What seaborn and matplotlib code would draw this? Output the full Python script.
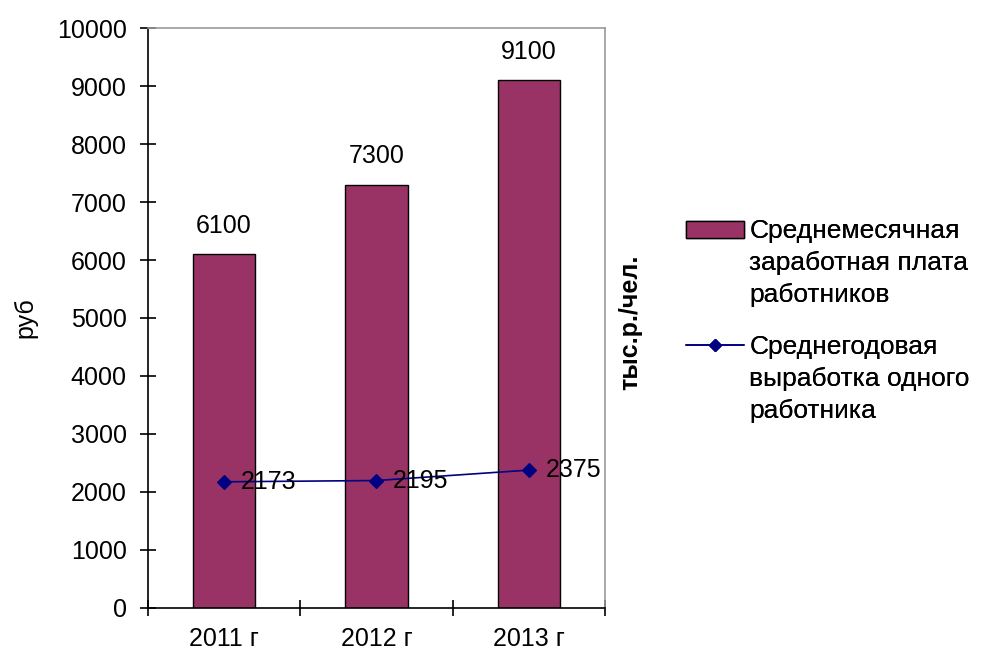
import matplotlib
matplotlib.use("Agg")
import matplotlib.pyplot as plt
from matplotlib.patches import Patch
from matplotlib.lines import Line2D
import pandas as pd
import seaborn as sns

years = ["2011 г", "2012 г", "2013 г"]
salary = [6100, 7300, 9100]
output = [2173, 2195, 2375]

salary_lines = ["Среднемесячная", "заработная плата", "работников"]
output_lines = ["Среднегодовая", "выработка одного", "работника"]

BAR = "#993366"
LINE = "#000080"
FS = 18

sns.set_theme(style="white")
plt.rcParams["font.family"] = ["Liberation Sans", "DejaVu Sans"]
plt.rcParams["font.size"] = FS
plt.rcParams["text.color"] = "black"
plt.rcParams["axes.labelcolor"] = "black"
plt.rcParams["xtick.color"] = "black"
plt.rcParams["ytick.color"] = "black"

df = pd.DataFrame({"year": years, "salary": salary, "output": output})

fig = plt.figure(figsize=(9.84, 6.57), dpi=100)
ax = fig.add_axes([0.150, 0.075, 0.465, 0.882])

sns.barplot(data=df, x="year", y="salary", color=BAR, saturation=1,
            width=0.41, edgecolor="black", linewidth=1, ax=ax)

sns.pointplot(data=df, x="year", y="output", color=LINE, markers="D",
              markersize=7, linewidth=1.2, ax=ax)

# bar values above the bars
ax.bar_label(ax.containers[0], padding=12, fontsize=FS, color="black")

# line values right of the markers
for i, v in enumerate(output):
    ax.annotate(str(v), (i, v), xytext=(12, 0), textcoords="offset points",
                ha="left", va="center", fontsize=FS, color="black")

ax.set_ylim(0, 10000)
ax.set_yticks(range(0, 10001, 1000))
ax.set_xlim(-0.5, 2.5)
ax.set_xticks([-0.5, 0.5, 1.5, 2.5])
ax.set_xticklabels([])
ax.set_xticks([0, 1, 2], minor=True)
ax.set_xticklabels(years, minor=True)
ax.tick_params(axis="x", which="major", direction="inout", length=12,
               width=1.2, bottom=True)
ax.tick_params(axis="x", which="minor", length=0, pad=14, labelsize=FS)
ax.tick_params(axis="y", direction="inout", length=12, width=1.2,
               left=True, labelsize=FS, pad=9)
ax.set_xlabel("")
ax.set_ylabel("руб", fontsize=FS, labelpad=14)

for side in ["left", "bottom"]:
    ax.spines[side].set_color("black")
    ax.spines[side].set_linewidth(1.2)
for side in ["top", "right"]:
    ax.spines[side].set_color("#999999")
    ax.spines[side].set_linewidth(1.2)

fig.text(0.640, 0.510, "тыс.р./чел.", rotation=90, ha="center", va="center",
         fontsize=FS, fontweight="bold")

# legend: handle aligned with the first line of each entry
blank = Line2D([], [], color="none")
groups = [
    (Patch(facecolor=BAR, edgecolor="black", linewidth=1), salary_lines, 0.666),
    (Line2D([0], [0], color=LINE, marker="D", markersize=6, linewidth=1.2),
     output_lines, 0.490),
]
for handle, lines, top in groups:
    leg = fig.legend([handle, blank, blank], lines, loc="upper left",
                     bbox_to_anchor=(0.697, top), frameon=False, fontsize=19,
                     handlelength=2.2, handleheight=0.6, handletextpad=0.2,
                     labelspacing=0.3, borderaxespad=0, borderpad=0)
    fig.add_artist(leg)

fig.savefig("out.png", dpi=100)
